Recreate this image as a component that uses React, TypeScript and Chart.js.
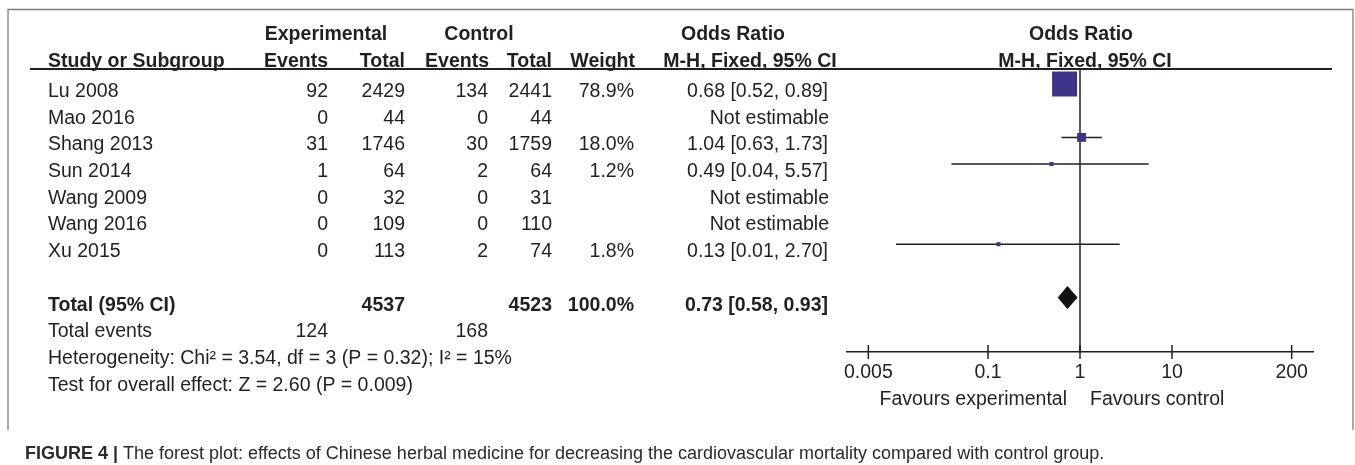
import React, { useEffect, useRef } from "react";
import { Chart, registerables } from "chart.js";

Chart.register(...registerables);

// ---- data ----
const studies = ["Lu 2008", "Mao 2016", "Shang 2013", "Sun 2014", "Wang 2009", "Wang 2016", "Xu 2015"];
const expEvents = [92, 0, 31, 1, 0, 0, 0];
const expTotal = [2429, 44, 1746, 64, 32, 109, 113];
const ctrlEvents = [134, 0, 30, 2, 0, 0, 2];
const ctrlTotal = [2441, 44, 1759, 64, 31, 110, 74];
const weights: (number | null)[] = [78.9, null, 18.0, 1.2, null, null, 1.8];
const orEst: (number | null)[] = [0.68, null, 1.04, 0.49, null, null, 0.13];
const ciLow: (number | null)[] = [0.52, null, 0.63, 0.04, null, null, 0.01];
const ciHigh: (number | null)[] = [0.89, null, 1.73, 5.57, null, null, 2.7];
const totalExp = 4537;
const totalCtrl = 4523;
const totalWeight = 100.0;
const totalOR = 0.73;
const totalLow = 0.58;
const totalHigh = 0.93;
const totalEventsExp = 124;
const totalEventsCtrl = 168;
const heterogeneityText = "Heterogeneity: Chi² = 3.54, df = 3 (P = 0.32); I² = 15%";
const overallText = "Test for overall effect: Z = 2.60 (P = 0.009)";
const axisTicks = [0.005, 0.1, 1, 10, 200];
const captionBold = "FIGURE 4 |";
const captionText = " The forest plot: effects of Chinese herbal medicine for decreasing the cardiovascular mortality compared with control group.";

// ---- styles ----
const FONT = '"Liberation Sans", Arial, Helvetica, sans-serif';
const INK = "#231f20";
const BOX = "#3b3486";
const FS = 19.5;

const fmt2 = (v: number) => v.toFixed(2);

export default function App() {
  const ref = useRef<HTMLCanvasElement>(null);

  useEffect(() => {
    document.body.style.margin = "0";
    const canvas = ref.current!;
    const est = studies.map((_, i) => i).filter((i) => orEst[i] != null);
    const maxW = Math.max(...(weights.filter((w) => w != null) as number[]));
    const tRow = studies.length + 1;

    const datasets: any[] = [];
    datasets.push({
      label: "boxes",
      data: est.map((i) => ({ x: orEst[i], y: i })),
      showLine: false,
      pointStyle: "rect",
      pointRadius: est.map((i) => Math.max(4, 25 * Math.pow((weights[i] as number) / maxW, 0.7)) / Math.SQRT2),
      pointHoverRadius: est.map((i) => Math.max(4, 25 * Math.pow((weights[i] as number) / maxW, 0.7)) / Math.SQRT2),
      backgroundColor: BOX,
      borderWidth: 0,
      order: 0,
    });
    est.forEach((i) => {
      datasets.push({
        label: "ci-" + studies[i],
        data: [
          { x: ciLow[i], y: i },
          { x: ciHigh[i], y: i },
        ],
        showLine: true,
        borderColor: INK,
        borderWidth: 1.5,
        pointRadius: 0,
        pointHoverRadius: 0,
        order: 2,
      });
    });
    datasets.push({
      label: "total",
      data: [
        { x: totalLow, y: tRow },
        { x: totalOR, y: tRow - 0.41 },
        { x: totalHigh, y: tRow },
        { x: totalOR, y: tRow + 0.41 },
        { x: totalLow, y: tRow },
      ],
      showLine: true,
      fill: "shape",
      backgroundColor: "#111111",
      borderColor: "#111111",
      borderWidth: 1,
      pointRadius: 0,
      pointHoverRadius: 0,
      tension: 0,
      order: 0,
    });

    const underlayPlugin = {
      id: "underlay",
      beforeDatasetsDraw(chart: any) {
        const ctx = chart.ctx;
        const xs = chart.scales.x;
        const ca = chart.chartArea;
        const x1 = xs.getPixelForValue(1);
        ctx.save();
        ctx.strokeStyle = INK;
        ctx.lineWidth = 1.5;
        ctx.beginPath();
        ctx.moveTo(x1, ca.top);
        ctx.lineTo(x1, ca.bottom);
        ctx.stroke();
        ctx.restore();
      },
    };

    const tablePlugin = {
      id: "table",
      afterDraw(chart: any) {
        const ctx = chart.ctx;
        const xs = chart.scales.x;
        const ys = chart.scales.y;
        const ca = chart.chartArea;
        const rowY = (i: number) => ys.getPixelForValue(i) + 13;
        const line = (a: number, b: number, c: number, d: number) => {
          ctx.beginPath();
          ctx.moveTo(a, b);
          ctx.lineTo(c, d);
          ctx.stroke();
        };
        const text = (s: string, x: number, y: number, align: CanvasTextAlign, bold = false, size = FS) => {
          ctx.font = `${bold ? "bold " : ""}${size}px ${FONT}`;
          ctx.textAlign = align;
          ctx.textBaseline = "alphabetic";
          ctx.fillText(s, x, y);
        };
        ctx.save();
        // frame
        ctx.strokeStyle = "#7f7f7f";
        ctx.lineWidth = 1.3;
        ctx.beginPath();
        ctx.moveTo(8, 430);
        ctx.lineTo(8, 9.5);
        ctx.lineTo(1353, 9.5);
        ctx.lineTo(1353, 430);
        ctx.stroke();
        // header rule
        ctx.strokeStyle = INK;
        ctx.lineWidth = 2;
        line(30, ca.top, 1332, ca.top);
        // axis tick marks crossing the axis line
        ctx.lineWidth = 1.5;
        xs.ticks.forEach((t: any) => {
          const px = xs.getPixelForValue(t.value);
          line(px, ca.bottom - 7, px, ca.bottom + 7);
        });

        ctx.fillStyle = INK;
        // header row 1
        const h1 = 40;
        const h2 = 67;
        text("Experimental", 326, h1, "center", true);
        text("Control", 479, h1, "center", true);
        text("Odds Ratio", 733, h1, "center", true);
        const x1 = xs.getPixelForValue(1);
        text("Odds Ratio", x1 + 1, h1, "center", true);
        // header row 2
        text("Study or Subgroup", 48, h2, "left", true);
        text("Events", 328, h2, "right", true);
        text("Total", 405, h2, "right", true);
        text("Events", 489, h2, "right", true);
        text("Total", 552, h2, "right", true);
        text("Weight", 635, h2, "right", true);
        text("M-H, Fixed, 95% CI", 750, h2, "center", true);
        text("M-H, Fixed, 95% CI", x1 + 5, h2, "center", true);

        // study rows
        studies.forEach((s, i) => {
          const y = rowY(i);
          text(s, 48, y, "left");
          text(String(expEvents[i]), 328, y, "right");
          text(String(expTotal[i]), 405, y, "right");
          text(String(ctrlEvents[i]), 488, y, "right");
          text(String(ctrlTotal[i]), 552, y, "right");
          const w = weights[i];
          if (w != null) text(w.toFixed(1) + "%", 634, y, "right");
          const o = orEst[i];
          if (o != null) {
            text(`${fmt2(o)} [${fmt2(ciLow[i] as number)}, ${fmt2(ciHigh[i] as number)}]`, 828, y, "right");
          } else {
            text("Not estimable", 829, y, "right");
          }
        });
        // total row
        const ty = rowY(tRow);
        text("Total (95% CI)", 48, ty, "left", true);
        text(String(totalExp), 405, ty, "right", true);
        text(String(totalCtrl), 552, ty, "right", true);
        text(totalWeight.toFixed(1) + "%", 634, ty, "right", true);
        text(`${fmt2(totalOR)} [${fmt2(totalLow)}, ${fmt2(totalHigh)}]`, 828, ty, "right", true);
        // total events
        const ey = rowY(tRow + 1);
        text("Total events", 48, ey, "left");
        text(String(totalEventsExp), 328, ey, "right");
        text(String(totalEventsCtrl), 488, ey, "right");
        text(heterogeneityText, 48, rowY(tRow + 2), "left");
        text(overallText, 48, rowY(tRow + 3), "left");

        // favours labels
        text("Favours experimental", x1 - 13, 405, "right");
        text("Favours control", x1 + 10, 405, "left");

        // caption
        ctx.fillStyle = "#2a2a2a";
        ctx.font = `bold 18px ${FONT}`;
        ctx.textAlign = "left";
        ctx.fillText(captionBold, 25, 459);
        const bw = ctx.measureText(captionBold).width;
        ctx.font = `18px ${FONT}`;
        ctx.fillText(captionText, 25 + bw, 459);
        ctx.restore();
      },
    };

    const chart = new Chart(canvas, {
      type: "scatter",
      data: { datasets },
      options: {
        responsive: false,
        animation: false,
        events: [],
        layout: { padding: { left: 847, right: 42, top: 69, bottom: 0 } },
        plugins: { legend: { display: false }, tooltip: { enabled: false } },
        scales: {
          x: {
            type: "logarithmic",
            position: "bottom",
            min: Math.pow(10, -2.533),
            max: Math.pow(10, 2.533),
            afterBuildTicks: (s: any) => {
              s.ticks = axisTicks.map((v) => ({ value: v }));
            },
            afterFit: (s: any) => {
              s.height = 465 - 352;
            },
            grid: { display: true, drawOnChartArea: false, drawTicks: false },
            border: { display: true, color: INK, width: 1.5 },
            ticks: {
              font: { family: FONT, size: FS },
              color: INK,
              padding: 9,
              maxRotation: 0,
              autoSkip: false,
              callback: (v: any) => String(v),
            },
          },
          y: {
            type: "linear",
            display: false,
            reverse: true,
            min: -0.562,
            max: 10.04,
          },
        },
      },
      plugins: [underlayPlugin, tablePlugin],
    } as any);
    return () => chart.destroy();
  }, []);

  return (
    <div style={{ width: 1355, height: 465, position: "relative", background: "#fff" }}>
      <canvas ref={ref} width={1355} height={465} style={{ display: "block" }} />
    </div>
  );
}
